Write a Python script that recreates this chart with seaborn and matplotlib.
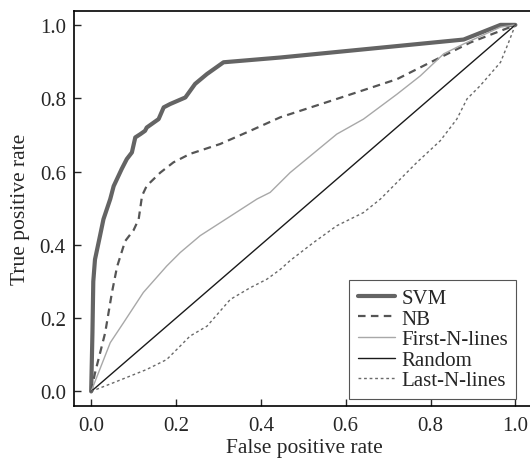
import pandas as pd
import seaborn as sns
from matplotlib import pyplot as plt

# ROC curves, points
SVM_FPR = [0.0, 0.003, 0.005, 0.009, 0.02, 0.029, 0.045, 0.053, 0.072, 0.084, 0.096,
           0.104, 0.116, 0.127, 0.131, 0.159, 0.171, 0.186, 0.222, 0.245, 0.273,
           0.312, 0.446, 0.878, 0.965, 1.0]
SVM_TPR = [0.0, 0.16, 0.30, 0.36, 0.42, 0.47, 0.525, 0.56, 0.607, 0.634, 0.652,
           0.693, 0.702, 0.711, 0.72, 0.743, 0.775, 0.784, 0.802, 0.839, 0.866,
           0.898, 0.911, 0.960, 1.0, 1.0]

NB_FPR = [0.0, 0.009, 0.033, 0.049, 0.061, 0.080, 0.100, 0.112, 0.120, 0.131, 0.163,
          0.194, 0.233, 0.304, 0.375, 0.446, 0.579, 0.721, 0.800, 0.894, 0.988, 1.0]
NB_TPR = [0.0, 0.05, 0.16, 0.27, 0.34, 0.41, 0.44, 0.47, 0.534, 0.561, 0.597,
          0.625, 0.648, 0.675, 0.711, 0.748, 0.798, 0.852, 0.898, 0.952, 0.994, 1.0]

FIRST_FPR = [0.0, 0.045, 0.076, 0.123, 0.178, 0.210, 0.257, 0.312, 0.391, 0.422,
             0.469, 0.579, 0.642, 0.721, 0.776, 0.831, 0.878, 0.965, 1.0]
FIRST_TPR = [0.0, 0.133, 0.187, 0.270, 0.342, 0.379, 0.425, 0.466, 0.525, 0.543,
             0.597, 0.702, 0.743, 0.811, 0.861, 0.921, 0.948, 0.994, 1.0]

RANDOM_FPR = [0.0, 1.0]
RANDOM_TPR = [0.0, 1.0]

LAST_FPR = [0.0, 0.053, 0.131, 0.178, 0.210, 0.233, 0.273, 0.328, 0.375, 0.414,
            0.446, 0.469, 0.524, 0.579, 0.642, 0.682, 0.768, 0.823, 0.862, 0.886,
            0.917, 0.965, 0.984, 1.0]
LAST_TPR = [0.0, 0.024, 0.060, 0.087, 0.124, 0.151, 0.178, 0.251, 0.283, 0.306,
            0.333, 0.357, 0.406, 0.452, 0.488, 0.525, 0.625, 0.684, 0.743, 0.798,
            0.834, 0.898, 0.952, 1.0]

TICKS = [0.0, 0.2, 0.4, 0.6, 0.8, 1.0]

sns.set_style('ticks')
plt.rcParams['font.family'] = ['Liberation Serif', 'DejaVu Serif']
plt.rcParams['font.size'] = 15

fig = plt.figure(figsize=(5.3, 4.6), dpi=100)
ax = fig.add_axes([0.14, 0.115, 0.87, 0.859])

curves = [
    ('SVM', SVM_FPR, SVM_TPR, dict(color='#646464', linewidth=3.0)),
    ('NB', NB_FPR, NB_TPR, dict(color='#555555', linewidth=1.6, dashes=(3.4, 2.4))),
    ('First-N-lines', FIRST_FPR, FIRST_TPR, dict(color='#a8a8a8', linewidth=1.0)),
    ('Random', RANDOM_FPR, RANDOM_TPR, dict(color='#1a1a1a', linewidth=1.0)),
    ('Last-N-lines', LAST_FPR, LAST_TPR, dict(color='#6a6a6a', linewidth=1.0, dashes=(2.0, 2.0))),
]

for name, fpr, tpr, style in curves:
    df = pd.DataFrame({'fpr': fpr, 'tpr': tpr})
    sns.lineplot(data=df, x='fpr', y='tpr', sort=False, estimator=None,
                 label=name, ax=ax, **style)

ax.set_xlim(-0.04, 1.047)
ax.set_ylim(-0.04, 1.038)
ax.set_xticks(TICKS)
ax.set_yticks(TICKS)
ax.set_xticklabels([f'{t:.1f}' for t in TICKS])
ax.set_yticklabels([f'{t:.1f}' for t in TICKS])
ax.tick_params(direction='in', length=5, width=1, labelsize=15)
ax.tick_params(axis='x', pad=7)
ax.tick_params(axis='y', pad=6)
for side in ['left', 'bottom', 'top']:
    ax.spines[side].set_linewidth(1.2)
    ax.spines[side].set_color('black')
ax.spines['right'].set_visible(False)

ax.set_xlabel('False positive rate', fontsize=15.5, labelpad=2)
ax.set_ylabel('True positive rate', fontsize=15.5, labelpad=7)

leg = ax.legend(loc='lower right', frameon=True, fancybox=False, framealpha=1,
                edgecolor='#555555', fontsize=15, borderaxespad=0.35,
                handlelength=1.8, handletextpad=0.3, labelspacing=0.05,
                borderpad=0.4, bbox_to_anchor=(0.975, 0.0))
leg.get_frame().set_linewidth(0.8)

plt.savefig('out.png', dpi=100)
